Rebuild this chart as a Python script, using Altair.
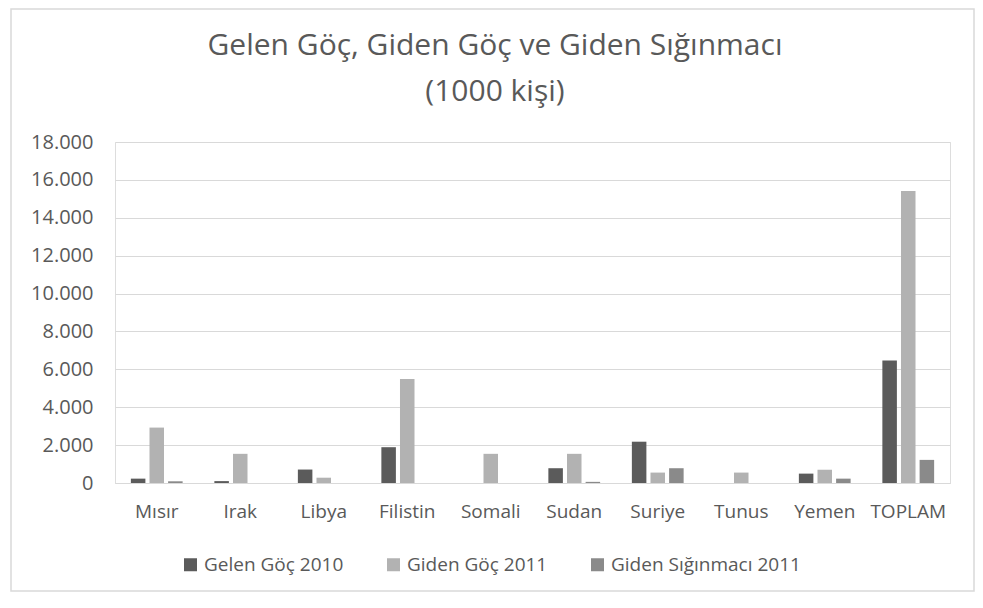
import altair as alt
import pandas as pd

categories = ["Mısır", "Irak", "Libya", "Filistin", "Somali", "Sudan", "Suriye", "Tunus", "Yemen", "TOPLAM"]
series = ["Gelen Göç 2010", "Giden Göç 2011", "Giden Sığınmacı 2011"]
gelen_2010 = [230, 100, 710, 1890, 0, 780, 2180, 0, 495, 6470]
giden_2011 = [2925, 1540, 280, 5490, 1540, 1540, 550, 550, 700, 15420]
siginmaci_2011 = [90, 0, 0, 0, 0, 60, 780, 0, 230, 1220]
title_lines = ["Gelen Göç, Giden Göç ve Giden Sığınmacı", "(1000 kişi)"]
colors = ["#5b5b5b", "#b2b2b2", "#8a8a8a"]

rows = []
for i, c in enumerate(categories):
    for s, vals in zip(series, [gelen_2010, giden_2011, siginmaci_2011]):
        rows.append({"Ülke": c, "Seri": s, "Değer": vals[i]})
df = pd.DataFrame(rows)

FONT = "Open Sans"
TXT = "#595959"

bars = alt.Chart(df).mark_bar().encode(
    x=alt.X("Ülke:N", sort=categories,
            scale=alt.Scale(paddingInner=0.38, paddingOuter=0.19),
            axis=alt.Axis(title=None, labelAngle=0, ticks=False, domain=True,
                          domainColor="#d9d9d9", labelFont=FONT, labelFontSize=19,
                          labelColor=TXT, labelPadding=19)),
    xOffset=alt.XOffset("Seri:N", sort=series,
                        scale=alt.Scale(paddingInner=0.22, paddingOuter=0)),
    y=alt.Y("Değer:Q", scale=alt.Scale(domain=[0, 18000]),
            axis=alt.Axis(title=None, values=list(range(0, 18001, 2000)),
                          labelExpr="replace(format(datum.value, ','), ',', '.')",
                          ticks=False, domain=False, grid=True, gridColor="#d9d9d9",
                          labelFont=FONT, labelFontSize=20, labelColor=TXT, labelPadding=22)),
    color=alt.Color("Seri:N", sort=series,
                    scale=alt.Scale(domain=series, range=colors),
                    legend=alt.Legend(title=None, orient="none", direction="horizontal",
                                      legendX=66, legendY=413, symbolType="square",
                                      symbolSize=169, symbolStrokeWidth=0,
                                      labelFont=FONT, labelFontSize=19, labelColor=TXT,
                                      labelLimit=400, columnPadding=40, labelOffset=4)),
)

frame = alt.Chart(pd.DataFrame({"k": [0]})).mark_rect(
    fill=None, stroke="#d9d9d9", strokeWidth=1.5
).encode(x=alt.value(-104), x2=alt.value(859), y=alt.value(-133), y2=alt.value(449))

t1 = alt.Chart(pd.DataFrame({"t": [title_lines[0]]})).mark_text(
    font=FONT, fontSize=30, color=TXT, align="center", baseline="alphabetic"
).encode(text="t:N", x=alt.value(380), y=alt.value(-87))
t2 = alt.Chart(pd.DataFrame({"t": [title_lines[1]]})).mark_text(
    font=FONT, fontSize=30, color=TXT, align="center", baseline="alphabetic"
).encode(text="t:N", x=alt.value(380), y=alt.value(-41))

chart = alt.layer(frame, t1, t2, bars).properties(
    width=835, height=341,
    autosize=alt.AutoSizeParams(type="none"),
    padding={"left": 107, "top": 134, "right": 25, "bottom": 110},
).configure_view(stroke=None).configure(background="white")

chart.save("out.html", embed_options={"renderer": "svg", "actions": False})
